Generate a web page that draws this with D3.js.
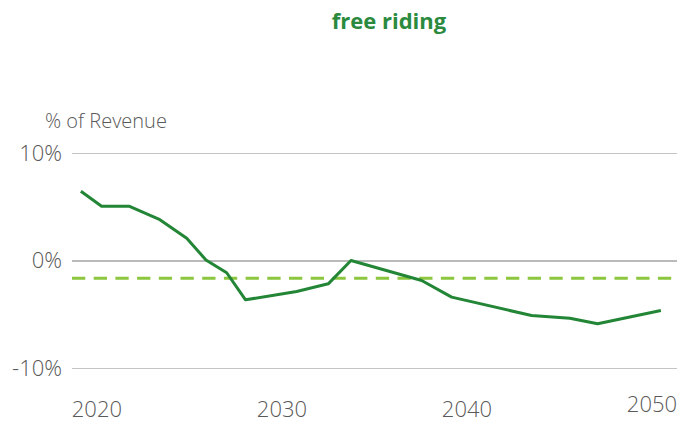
<!DOCTYPE html>
<html>
<head>
<meta charset="utf-8">
<script src="https://cdn.jsdelivr.net/npm/d3@7"></script>
<style>
  html, body { margin: 0; padding: 0; background: #fff; }
  svg { display: block; font-family: "Open Sans", "Noto Sans", sans-serif; }
</style>
</head>
<body>
<svg id="chart" width="694" height="425"></svg>
<script>
// Free riding cost as share of revenue, by year
const years = [2019.16, 2020.28, 2021.76, 2023.43, 2024.88, 2025.92, 2027.04, 2028.06,
               2030.82, 2032.53, 2033.76, 2037.58, 2039.2, 2043.52, 2045.59, 2047.09, 2050.51];
const shareOfRevenue = [6.45, 5.05, 5.05, 3.8, 2.07, 0.05, -1.14, -3.66,
                        -2.88, -2.17, 0.0, -1.86, -3.41, -5.12, -5.37, -5.89, -4.65];
const referenceLevel = -1.65;
const yTicks = [-10, 0, 10];
const xTicks = [2020, 2030, 2040, 2050];
const titleText = "free riding";
const unitText = "% of Revenue";

const svg = d3.select("#chart");
const plot = { left: 72, right: 677, top: 153, bottom: 368 };

const x = d3.scaleLinear().domain([2018.68, 2051.38]).range([plot.left, plot.right]);
const y = d3.scaleLinear().domain([-10, 10]).range([plot.bottom, plot.top]);

const textColor = "#595959";
const labelSize = 22;

// Title
svg.append("text")
  .attr("x", 389).attr("y", 29)
  .attr("text-anchor", "middle")
  .attr("font-size", 22).attr("font-weight", 700)
  .attr("fill", "#2b8a3e")
  .text(titleText);

// Unit label
svg.append("text")
  .attr("x", 45).attr("y", 128)
  .attr("font-size", 20).attr("font-weight", 300)
  .attr("fill", textColor)
  .text(unitText);

// Horizontal gridlines with value labels
const yAxis = d3.axisLeft(y)
  .tickValues(yTicks)
  .tickSize(-(plot.right - plot.left))
  .tickPadding(10)
  .tickFormat(d => d + "%");

const gy = svg.append("g")
  .attr("transform", `translate(${plot.left},0)`)
  .call(yAxis);
gy.select(".domain").remove();
gy.selectAll(".tick line")
  .attr("stroke", d => d === 0 ? "#a3a3a3" : "#c4c4c4")
  .attr("stroke-width", d => d === 0 ? 1.6 : 1.1);
gy.selectAll(".tick text")
  .attr("font-size", labelSize).attr("font-weight", 300)
  .attr("fill", textColor)
  .attr("font-family", "'Open Sans', sans-serif");

// Year labels
const xAxis = d3.axisBottom(x).tickValues(xTicks).tickSize(0).tickFormat(d3.format("d"));
const gx = svg.append("g")
  .attr("transform", `translate(0,${plot.bottom})`)
  .call(xAxis);
gx.select(".domain").remove();
gx.selectAll(".tick text")
  .attr("font-size", labelSize).attr("font-weight", 300)
  .attr("fill", textColor)
  .attr("font-family", "'Open Sans', sans-serif")
  .attr("y", d => d === 2050 ? 28 : 33);

// Dashed reference level
svg.append("line")
  .attr("x1", plot.left).attr("x2", plot.right)
  .attr("y1", y(referenceLevel)).attr("y2", y(referenceLevel))
  .attr("stroke", "#8cc63e")
  .attr("stroke-width", 3)
  .attr("stroke-dasharray", "13.3 8.4");

// Main series
const line = d3.line()
  .x((d, i) => x(years[i]))
  .y(d => y(d));

svg.append("path")
  .datum(shareOfRevenue)
  .attr("fill", "none")
  .attr("stroke", "#238636")
  .attr("stroke-width", 3)
  .attr("stroke-linejoin", "round")
  .attr("d", line);
</script>
</body>
</html>
